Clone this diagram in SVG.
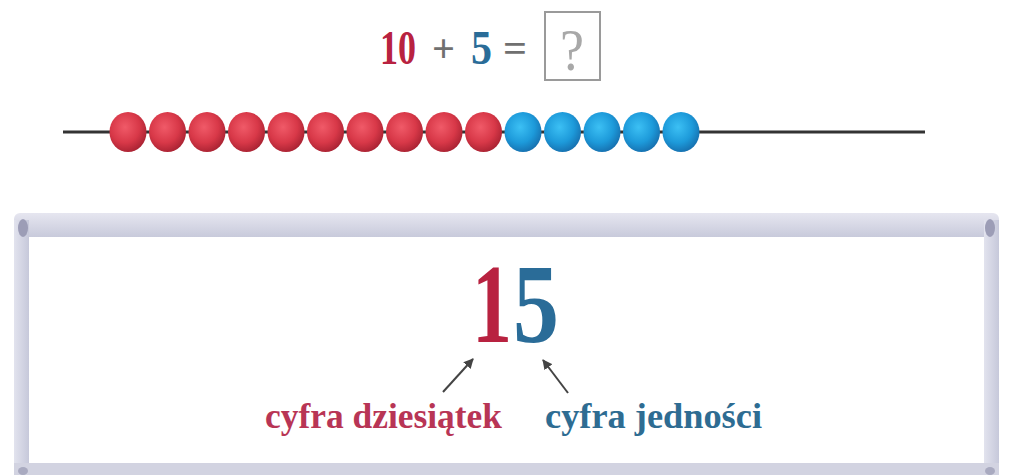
<svg xmlns="http://www.w3.org/2000/svg" width="1013" height="475" viewBox="0 0 1013 475">
<defs>
<radialGradient id="gr" cx="0.42" cy="0.38" r="0.65">
<stop offset="0" stop-color="#f05a68"/>
<stop offset="0.6" stop-color="#d83848"/>
<stop offset="1" stop-color="#a82232"/>
</radialGradient>
<radialGradient id="gb" cx="0.42" cy="0.38" r="0.65">
<stop offset="0" stop-color="#3cc0f4"/>
<stop offset="0.6" stop-color="#1d9ada"/>
<stop offset="1" stop-color="#166fae"/>
</radialGradient>
<linearGradient id="bar" x1="0" y1="0" x2="0" y2="1">
<stop offset="0" stop-color="#e6e6f0"/>
<stop offset="1" stop-color="#c8cadb"/>
</linearGradient>
<linearGradient id="side" x1="0" y1="0" x2="1" y2="0">
<stop offset="0" stop-color="#e2e3ee"/>
<stop offset="1" stop-color="#c6c8da"/>
</linearGradient>
<marker id="ah" viewBox="0 0 10 10" refX="9" refY="5" markerWidth="5" markerHeight="5" orient="auto">
<path d="M0,0 L10,5 L0,10 z" fill="#444"/>
</marker>
</defs>
<style>
.serif{font-family:"Liberation Serif","DejaVu Serif",serif;font-weight:bold}
.red{fill:#b82240}
.blue{fill:#2a6c98}
.gray{fill:#707070}
.lbl{font-size:36px}
.arrow{stroke:#444;stroke-width:2;fill:none;marker-end:url(#ah)}
</style>
<rect width="1013" height="475" fill="#fff"/>
<g id="equation">
<text class="serif red" x="380" y="64" font-size="48" textLength="36" lengthAdjust="spacingAndGlyphs">10</text>
<text class="serif gray" x="432" y="62" font-size="40" textLength="23" lengthAdjust="spacingAndGlyphs">+</text>
<text class="serif blue" x="471" y="64" font-size="48" textLength="21" lengthAdjust="spacingAndGlyphs">5</text>
<text class="serif gray" x="503" y="62" font-size="40" textLength="24" lengthAdjust="spacingAndGlyphs">=</text>
<rect x="545" y="12" width="55" height="68" fill="#fff" stroke="#9a9a9a" stroke-width="2"/>
<text x="572" y="70" font-family="Liberation Serif, serif" font-size="60" fill="#a8a8a8" text-anchor="middle" textLength="24" lengthAdjust="spacingAndGlyphs">?</text>
</g>
<g id="abacus">
<line x1="63" y1="132" x2="925" y2="132" stroke="#333" stroke-width="3"/>
<g fill="url(#gr)">
<ellipse cx="128" cy="132" rx="18.5" ry="20"/>
<ellipse cx="167.5" cy="132" rx="18.5" ry="20"/>
<ellipse cx="207" cy="132" rx="18.5" ry="20"/>
<ellipse cx="246.5" cy="132" rx="18.5" ry="20"/>
<ellipse cx="286" cy="132" rx="18.5" ry="20"/>
<ellipse cx="325.5" cy="132" rx="18.5" ry="20"/>
<ellipse cx="365" cy="132" rx="18.5" ry="20"/>
<ellipse cx="404.5" cy="132" rx="18.5" ry="20"/>
<ellipse cx="444" cy="132" rx="18.5" ry="20"/>
<ellipse cx="483.5" cy="132" rx="18.5" ry="20"/>
</g>
<g fill="url(#gb)">
<ellipse cx="523" cy="132" rx="18.5" ry="20"/>
<ellipse cx="562.5" cy="132" rx="18.5" ry="20"/>
<ellipse cx="602" cy="132" rx="18.5" ry="20"/>
<ellipse cx="641.5" cy="132" rx="18.5" ry="20"/>
<ellipse cx="681" cy="132" rx="18.5" ry="20"/>
</g>
</g>
<g id="frame">
<rect x="14" y="213" width="985" height="24" rx="6" fill="url(#bar)"/>
<rect x="14" y="220" width="15" height="255" fill="url(#side)"/>
<rect x="984" y="220" width="15" height="255" fill="url(#side)"/>
<rect x="14" y="463" width="985" height="12" fill="#d2d3e1"/>
<rect x="29" y="237" width="955" height="226" fill="#fff"/>
<ellipse cx="23" cy="228" rx="5" ry="9" fill="#9c9db6"/>
<ellipse cx="990" cy="228" rx="5" ry="9" fill="#9c9db6"/>
<ellipse cx="23" cy="471" rx="5" ry="4" fill="#a9aac0"/>
<ellipse cx="990" cy="471" rx="5" ry="4" fill="#a9aac0"/>
</g>
<g id="number">
<text class="serif red" transform="translate(472,342) scale(0.714,1)" font-size="112">1</text>
<text class="serif blue" transform="translate(513,342) scale(0.82,1)" font-size="112">5</text>
</g>
<g id="connectors">
<line class="arrow" x1="443" y1="392" x2="473" y2="359"/>
<line class="arrow" x1="568" y1="393" x2="543" y2="360"/>
</g>
<g id="label-tens">
<text class="serif lbl" x="265" y="428" fill="#b83555" textLength="237" lengthAdjust="spacingAndGlyphs">cyfra dziesiątek</text>
</g>
<g id="label-ones">
<text class="serif lbl" x="545" y="428" fill="#2e6c92" textLength="217" lengthAdjust="spacingAndGlyphs">cyfra jedności</text>
</g>
</svg>
